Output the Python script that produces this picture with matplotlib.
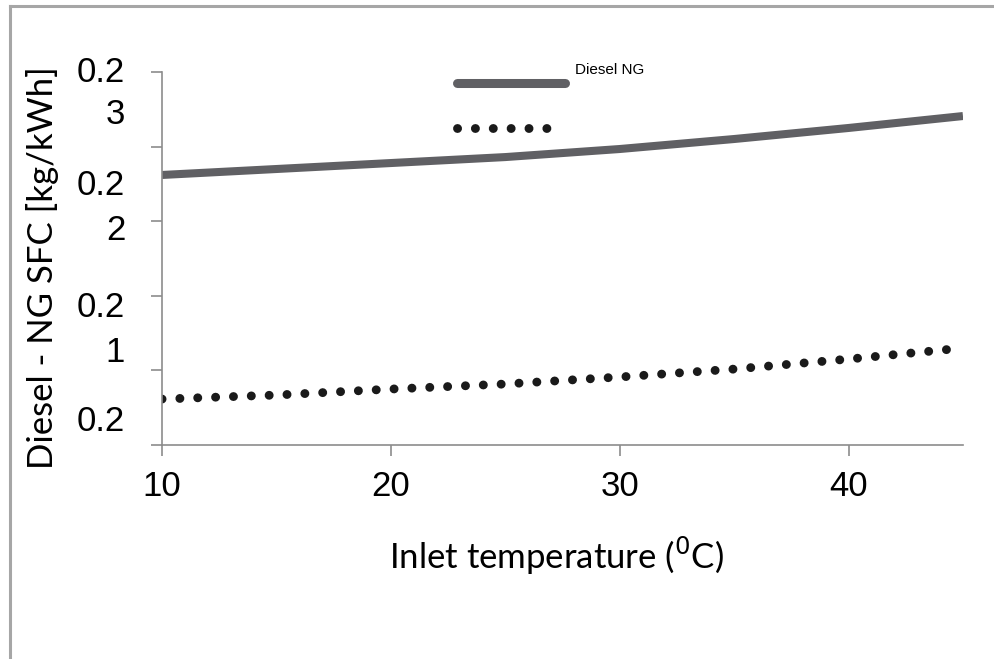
import numpy as np
import matplotlib.pyplot as plt
from matplotlib.lines import Line2D

# data
temperature = [10, 15, 20, 25, 30, 35, 40, 45]
diesel_sfc = [0.22310, 0.22350, 0.22390, 0.22430, 0.22484, 0.22551, 0.22625, 0.22705]
ng_sfc = [0.20808, 0.20835, 0.20875, 0.20909, 0.20956, 0.21009, 0.21076, 0.21150]

x_ticks = [10, 20, 30, 40]
y_ticks = [0.205, 0.210, 0.215, 0.220, 0.225, 0.230]
# the tick labels are wrapped in the original, so they are drawn as loose text
y_tick_text = ['0.2', '3', '0.2', '2', '0.2', '1', '0.2']
y_tick_pos = [1.0, 0.885, 0.697, 0.576, 0.370, 0.249, 0.062]

narrow = ['Lato', 'DejaVu Sans']
plain = ['Liberation Sans', 'DejaVu Sans']

fig = plt.figure(figsize=(9.95, 6.59), dpi=100)
ax = fig.add_axes([0.1628, 0.3247, 0.805, 0.566])

ax.plot(temperature, diesel_sfc, color='#606064', linewidth=5.8, solid_capstyle='butt')
ax.plot(temperature, ng_sfc, color='#1a1a1a', linewidth=6.4,
        linestyle=(0, (0.01, 2.0)), dash_capstyle='round')

ax.set_xlim(10, 45)
ax.set_ylim(0.205, 0.230)
ax.set_xticks(x_ticks)
ax.set_yticks(y_ticks)
ax.set_yticklabels([''] * len(y_ticks))
for lab in ax.get_xticklabels():
    lab.set_family(plain)
    lab.set_fontsize(25)

ax.tick_params(axis='both', direction='out', length=8, width=1.2, color='#8c8c8c')
ax.tick_params(axis='x', pad=10)
for s in ['top', 'right']:
    ax.spines[s].set_visible(False)
for s in ['left', 'bottom']:
    ax.spines[s].set_color('#8c8c8c')
    ax.spines[s].set_linewidth(1.2)

for txt, pos in zip(y_tick_text, y_tick_pos):
    ax.text(-0.046, pos, txt, transform=ax.transAxes, ha='right', va='center',
            fontsize=25, family=plain)

ax.set_ylabel('Diesel - NG SFC [kg/kWh]', fontsize=25, family=narrow)
ax.yaxis.set_label_coords(-0.128, 0.4745)
ax.set_xlabel('Inlet temperature ($^0$C)', fontsize=25, family=narrow)
ax.xaxis.set_label_coords(0.493, -0.24)

# hand made legend
ax.add_line(Line2D([0.368, 0.503], [0.9705, 0.9705], transform=ax.transAxes,
                   color='#606064', linewidth=6.5, solid_capstyle='round', clip_on=False))
ax.add_line(Line2D([0.368, 0.488], [0.850, 0.850], transform=ax.transAxes,
                   color='#1a1a1a', linewidth=6.4, linestyle=(0, (0.01, 2.0)),
                   dash_capstyle='round', clip_on=False))
ax.text(0.516, 1.005, 'Diesel NG', transform=ax.transAxes, ha='left', va='center',
        fontsize=11, family=plain)

# outer frame (only top and left edges show)
fig.add_artist(Line2D([10 / 995, 1.0], [1 - 5.5 / 659, 1 - 5.5 / 659],
                      color='#a6a6a6', linewidth=2.2))
fig.add_artist(Line2D([10 / 995, 10 / 995], [0.0, 1 - 5.5 / 659],
                      color='#a6a6a6', linewidth=2.2))

fig.savefig('out.png', dpi=100)
